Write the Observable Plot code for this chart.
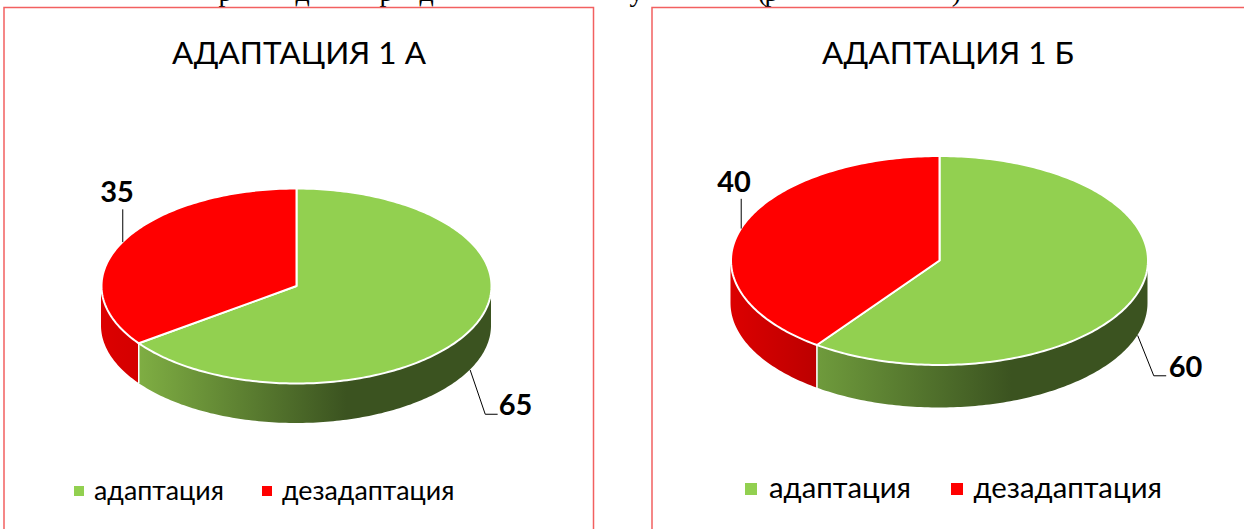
<!DOCTYPE html>
<html><head><meta charset="utf-8">
<script src="https://cdn.jsdelivr.net/npm/d3@7"></script>
<script src="https://cdn.jsdelivr.net/npm/@observablehq/plot@0.6"></script>
<style>html,body{margin:0;padding:0;background:#fff}svg{display:block}</style>
</head><body><div id="chart"></div>
<script>
// data
const categories = ["адаптация", "дезадаптация"];
const titles = ["АДАПТАЦИЯ 1 А", "АДАПТАЦИЯ 1 Б"];
const valuesA = [65, 35];
const valuesB = [60, 40];
const topColors = ["#92d050", "#ff0000"];
const bodyFragments = ["р", "д", "р", "д", "у", "(", "р", ")"];
const fragmentX = [225, 302, 386, 426, 636, 762, 771, 956];

// layout
const FONT = "Lato, Carlito, 'Open Sans', sans-serif";
const panels = [
  {id:"a", title:titles[0], values:valuesA, cx:296, cy:285.5, rx:195, ry:97.5, depth:40, titleX:298.5,
   frame:[4,593.5], legendSize:10, swatchY:491, legendY:499, legendFont:26.8,
   legendSwatch:[74,262], legendText:[93.5,281.5],
   label:[{x:515,y:414,lead:[[15,44],[27,44]]},{x:116.5,y:201,lead:[[0,-32]]}],
   side:[["#7fae43","#3b5320"],["#dc0000","#d40000"]]},
  {id:"b", title:titles[1], values:valuesB, cx:939, cy:260, rx:208.5, ry:104.5, depth:43, titleX:947.5,
   frame:[652,1300], legendSize:12, swatchY:489, legendY:497, legendFont:29.3,
   legendSwatch:[745,951], legendText:[768.5,973],
   label:[{x:1185,y:376,lead:[[16,40],[28,40]]},{x:733.5,y:191,lead:[[0,-29]]}],
   side:[["#6f9b3c","#3b5320"],["#dc0000","#bc0000"]]}
];

const rim = (p, deg, down = 0) => {
  const t = deg * Math.PI / 180;
  return {x: p.cx + p.rx * Math.sin(t), y: p.cy - p.ry * Math.cos(t) + down};
};
const range = (a, b) => {
  const n = Math.max(2, Math.ceil(Math.abs(b - a)));
  return d3.range(n + 1).map(i => a + (b - a) * i / n);
};
const toDeg = (p, i) => {
  const tot = d3.sum(p.values);
  const a0 = d3.sum(p.values.slice(0, i)) / tot * 360;
  return [a0, a0 + p.values[i] / tot * 360];
};

const sideMarks = [], topMarks = [], labelMarks = [], defs = [];
for (const p of panels) {
  p.values.forEach((v, i) => {
    const [a0, a1] = toDeg(p, i);
    // visible wall: front half only
    const f0 = Math.max(a0, 90), f1 = Math.min(a1, 270);
    if (f1 > f0) {
      const pts = range(f0, f1).map(d => rim(p, d));
      const id = `side-${p.id}-${i}`;
      const [c0, c1] = p.side[i];
      defs.push({id, c0, c1, stop: i === 0 ? 0.59 : 1});
      sideMarks.push(Plot.areaY(pts, {x:"x", y1:"y", y2:d => d.y + p.depth, fill:`url(#${id})`}));
      if (i === 0) {
        const s = rim(p, f1);
        topMarks.push(Plot.link([s], {x1:"x", y1:"y", x2:"x", y2:d => d.y + p.depth, stroke:"#ffffff", strokeWidth:1.5}));
      }
    }
    const outline = [{x:p.cx, y:p.cy}, ...range(a0, a1).map(d => rim(p, d)), {x:p.cx, y:p.cy}];
    topMarks.push(Plot.line(outline, {x:"x", y:"y", fill:topColors[i], stroke:"#ffffff", strokeWidth:2, strokeLinejoin:"round"}));
    // leader + value label
    const mid = (a0 + a1) / 2;
    const front = mid > 90 && mid < 270;
    const start = rim(p, mid, front ? p.depth : 0);
    const lab = p.label[i];
    const leader = [start, ...lab.lead.map(([dx, dy]) => ({x:start.x + dx, y:start.y + dy}))];
    labelMarks.push(Plot.line(leader, {x:"x", y:"y", stroke:"#000", strokeWidth:1, curve:"linear"}));
    labelMarks.push(Plot.text([v], {x:()=>lab.x, y:()=>lab.y, text:d=>String(d), fontSize:29, fontWeight:700, fontFamily:FONT, fill:"#000", lineAnchor:"bottom", textAnchor:"middle"}));
  });
  labelMarks.push(Plot.text([p.title], {x:()=>p.titleX, y:()=>63, text:d=>d, fontSize:31.5, fontFamily:FONT, fill:"#000", lineAnchor:"bottom", textAnchor:"middle"}));
  categories.forEach((c, i) => {
    const x = p.legendSwatch[i], s = p.legendSize;
    labelMarks.push(Plot.rect([c], {x1:()=>x, x2:()=>x+s, y1:()=>p.swatchY-s/2, y2:()=>p.swatchY+s/2, fill:topColors[i]}));
    labelMarks.push(Plot.text([c], {x:()=>p.legendText[i], y:()=>p.legendY, text:d=>d, fontSize:p.legendFont, fontFamily:FONT, fill:"#000", lineAnchor:"bottom", textAnchor:"start"}));
  });
}

const gradients = () => {
  const svg = d3.create("svg:defs");
  for (const g of defs) {
    const lg = svg.append("linearGradient").attr("id", g.id).attr("x1", 0).attr("x2", 1).attr("y1", 0).attr("y2", 0);
    lg.append("stop").attr("offset", 0).attr("stop-color", g.c0);
    lg.append("stop").attr("offset", g.stop).attr("stop-color", g.c1);
  }
  return svg.node();
};

const chart = Plot.plot({
  width:1244, height:529, margin:0,
  x:{domain:[0,1244], range:[0,1244], axis:null},
  y:{domain:[0,529], range:[0,529], axis:null},
  style:{background:"#fff"},
  marks:[
    gradients,
    Plot.text(bodyFragments, {x:(d,i)=>fragmentX[i], y:()=>0, text:d=>d, fontSize:28, fontFamily:"Liberation Serif", fill:"#000", lineAnchor:"bottom", textAnchor:"middle"}),
    ...panels.map(p => Plot.rect([p], {x1:d=>d.frame[0], x2:d=>d.frame[1], y1:()=>7.5, y2:()=>560, fill:"#fff", stroke:"#f26060", strokeWidth:1.5})),
    ...sideMarks,
    ...topMarks,
    ...labelMarks
  ]
});
document.getElementById("chart").append(chart);
</script></body></html>
